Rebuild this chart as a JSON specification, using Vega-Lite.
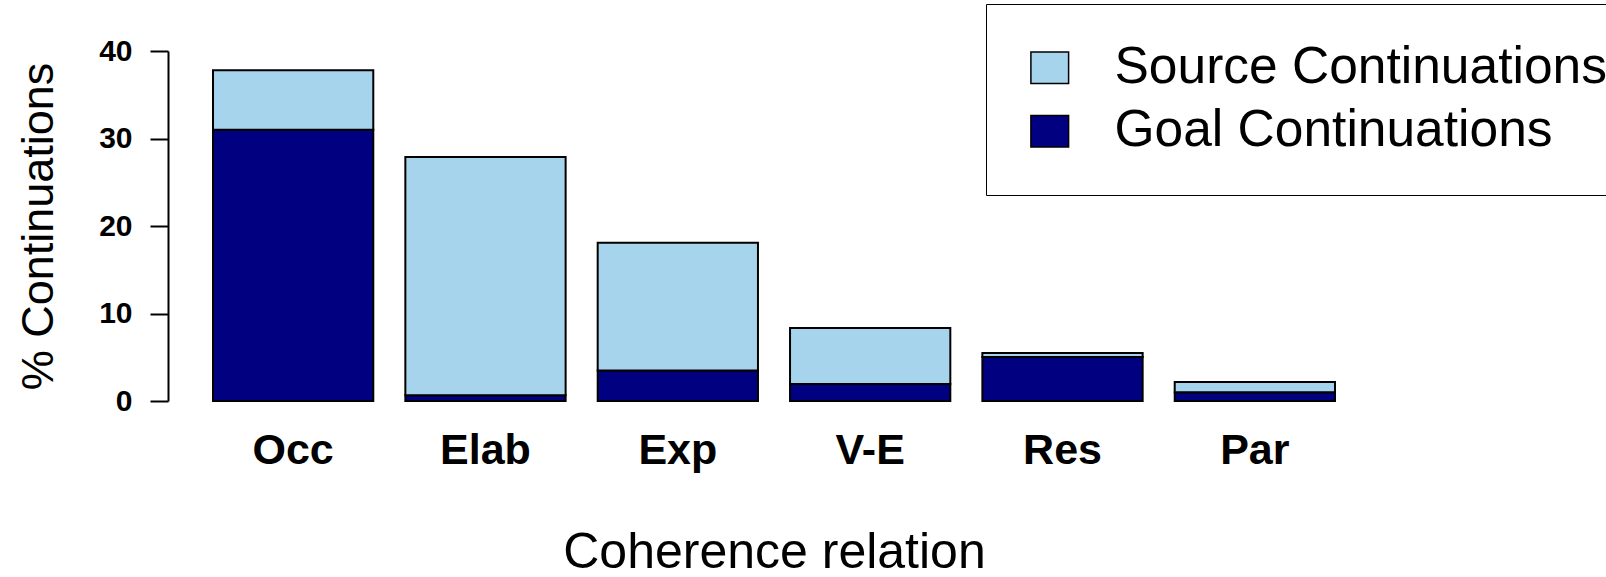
{
  "$schema": "https://vega.github.io/schema/vega-lite/v6.json",
  "autosize": {"type": "none"},
  "width": 1212,
  "height": 350,
  "padding": {"left": 168, "top": 51, "right": 226, "bottom": 176},
  "background": "white",
  "config": {
    "font": "Liberation Sans",
    "view": {"stroke": null}
  },
  "data": {
    "values": [
      {"relation": "Occ", "series": "Goal Continuations", "value": 31.0},
      {"relation": "Occ", "series": "Source Continuations", "value": 6.8},
      {"relation": "Elab", "series": "Goal Continuations", "value": 0.65},
      {"relation": "Elab", "series": "Source Continuations", "value": 27.25},
      {"relation": "Exp", "series": "Goal Continuations", "value": 3.5},
      {"relation": "Exp", "series": "Source Continuations", "value": 14.6},
      {"relation": "V-E", "series": "Goal Continuations", "value": 1.95},
      {"relation": "V-E", "series": "Source Continuations", "value": 6.4},
      {"relation": "Res", "series": "Goal Continuations", "value": 5.03},
      {"relation": "Res", "series": "Source Continuations", "value": 0.46},
      {"relation": "Par", "series": "Goal Continuations", "value": 1.0},
      {"relation": "Par", "series": "Source Continuations", "value": 1.17}
    ]
  },
  "mark": {"type": "bar", "stroke": "black", "strokeWidth": 2},
  "encoding": {
    "x": {
      "field": "relation",
      "type": "nominal",
      "sort": ["Occ", "Elab", "Exp", "V-E", "Res", "Par"],
      "scale": {"paddingInner": 0.1667, "paddingOuter": 0.234},
      "axis": {
        "title": "Coherence relation",
        "titleFontSize": 50,
        "titleFontWeight": "normal",
        "titleColor": "black",
        "titlePadding": 55,
        "labelFontSize": 43,
        "labelFontWeight": "bold",
        "labelColor": "black",
        "labelAngle": 0,
        "labelPadding": 28,
        "domain": false,
        "ticks": false,
        "grid": false
      }
    },
    "y": {
      "field": "value",
      "type": "quantitative",
      "stack": "zero",
      "scale": {"domain": [0, 40], "nice": false},
      "axis": {
        "title": "% Continuations",
        "titleFontSize": 45,
        "titleFontWeight": "normal",
        "titleColor": "black",
        "titlePadding": 37,
        "values": [0, 10, 20, 30, 40],
        "labelFontSize": 30,
        "labelFontWeight": "bold",
        "labelColor": "black",
        "labelPadding": 18,
        "tickSize": 18,
        "tickWidth": 2,
        "tickColor": "black",
        "domain": true,
        "domainColor": "black",
        "domainWidth": 2,
        "grid": false
      }
    },
    "color": {
      "field": "series",
      "type": "nominal",
      "scale": {
        "domain": ["Source Continuations", "Goal Continuations"],
        "range": ["#A6D4EC", "#000080"]
      },
      "legend": {
        "title": null,
        "orient": "none",
        "legendX": 818,
        "legendY": -47,
        "padding": 38,
        "strokeColor": "black",
        "fillColor": "white",
        "symbolType": "M-1,-0.84L1,-0.84L1,0.84L-1,0.84Z",
        "symbolSize": 1421,
        "symbolStrokeColor": "black",
        "symbolStrokeWidth": 1.5,
        "symbolOpacity": 1,
        "labelFont": "Liberation Sans",
        "labelFontSize": 51.5,
        "labelColor": "black",
        "labelOffset": 39,
        "labelLimit": 1000,
        "rowPadding": 10.5
      }
    },
    "order": {"field": "series", "sort": "ascending"}
  }
}
